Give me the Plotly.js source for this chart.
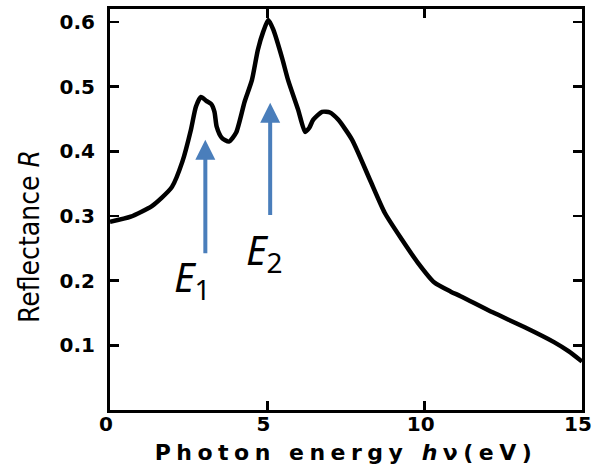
<!DOCTYPE html>
<html>
<head>
<meta charset="utf-8">
<script src="https://cdn.plot.ly/plotly-3.0.1.min.js"></script>
<style>
  html, body { margin: 0; padding: 0; background: #fff; }
  #chart { width: 594px; height: 469px; }
  .xtitle { letter-spacing: 5.5px; }
  .ytitle { translate: 0px 27px; }
</style>
</head>
<body>
<div id="chart"></div>
<script>
// Photon energy (eV)
const energy = [0.00, 0.66, 1.32, 1.64, 1.97, 2.30, 2.57, 2.73, 2.89, 3.06, 3.22, 3.32, 3.39, 3.55, 3.78,
  4.01, 4.28, 4.51, 4.70, 4.87, 5.03, 5.19, 5.47, 5.66, 5.98, 6.20, 6.33, 6.46, 6.74, 6.99, 7.25, 7.69,
  8.26, 8.73, 9.27, 9.78, 10.31, 10.83, 11.14, 12.16, 13.18, 14.11, 14.57, 15.00];
// Reflectance R
const reflectance = [0.291, 0.299, 0.315, 0.328, 0.345, 0.384, 0.433, 0.469, 0.484, 0.478, 0.473, 0.461, 0.438, 0.421, 0.415,
  0.429, 0.477, 0.510, 0.557, 0.585, 0.603, 0.588, 0.544, 0.510, 0.464, 0.430, 0.436, 0.449, 0.461, 0.460, 0.449, 0.418,
  0.356, 0.305, 0.264, 0.228, 0.197, 0.183, 0.176, 0.151, 0.128, 0.105, 0.091, 0.075];

const xTickVals = [0, 5, 10, 15];
const xTickText = ['0', '5', '10', '15'];
const yTickVals = [0.1, 0.2, 0.3, 0.4, 0.5, 0.6];
const yTickText = ['0.1', '0.2', '0.3', '0.4', '0.5', '0.6'];

// Critical points marked with arrows
const markerLabels = ['<i>E</i><sub>1</sub>', '<i>E</i><sub>2</sub>'];
const markerEnergy = [3.03, 5.09];   // arrow position (eV)
const markerTip = [0.418, 0.475];    // arrow head (R)
const markerTail = [0.240, 0.299];   // arrow tail (R)
const labelEnergy = [2.63, 4.90];    // label centre (eV)
const labelR = [0.204, 0.245];       // label centre (R)

const arrowColor = '#4a7ebb';
const annotations = [];
for (let i = 0; i < markerLabels.length; i++) {
  annotations.push({
    x: markerEnergy[i], y: markerTip[i], xref: 'x', yref: 'y',
    ax: markerEnergy[i], ay: markerTail[i], axref: 'x', ayref: 'y',
    text: '', showarrow: true, arrowhead: 2, arrowsize: 1, arrowwidth: 4,
    arrowcolor: arrowColor, standoff: 0, startstandoff: 0
  });
  annotations.push({
    x: labelEnergy[i], y: labelR[i], xref: 'x', yref: 'y',
    text: markerLabels[i], showarrow: false, xanchor: 'center', yanchor: 'middle',
    font: { family: 'Noto Sans, Open Sans, sans-serif', size: 40, color: '#000' }
  });
}

const trace = {
  x: energy, y: reflectance, type: 'scatter', mode: 'lines',
  line: { color: '#000', width: 4.5, shape: 'spline', smoothing: 0.6 },
  hoverinfo: 'skip'
};

const tickFont = { family: 'DejaVu Sans, sans-serif', size: 20, color: '#000', weight: 'bold' };

const layout = {
  width: 594, height: 469,
  margin: { l: 110, r: 12, t: 9, b: 59, pad: 0 },
  paper_bgcolor: '#fff', plot_bgcolor: '#fff',
  showlegend: false,
  xaxis: {
    range: [0, 15], tickvals: xTickVals, ticktext: xTickText,
    ticks: 'inside', ticklen: 9, tickwidth: 2.5, tickcolor: '#000',
    showline: true, linecolor: '#000', linewidth: 3, mirror: 'ticks',
    showgrid: false, zeroline: false, tickfont: tickFont, ticklabelstandoff: -6,
    ticklabelshift: -4, ticklabeloverflow: 'allow',
    title: { text: 'Photon energy <i>h</i>ν(eV)', standoff: 10,
      font: { family: 'DejaVu Sans, sans-serif', size: 22, color: '#000', weight: 'bold' } }
  },
  yaxis: {
    range: [0, 0.62], tickvals: yTickVals, ticktext: yTickText,
    ticks: 'inside', ticklen: 9, tickwidth: 2.5, tickcolor: '#000',
    showline: true, linecolor: '#000', linewidth: 3, mirror: 'ticks',
    showgrid: false, zeroline: false, tickfont: tickFont, ticklabelstandoff: 8,
    ticklabeloverflow: 'allow',
    title: { text: 'Reflectance <i>R</i>', standoff: 12,
      font: { family: 'DejaVu Sans Condensed, DejaVu Sans, sans-serif', size: 28, color: '#000' } }
  },
  annotations: annotations
};

Plotly.newPlot('chart', [trace], layout, { displayModeBar: false, staticPlot: true });
</script>
</body>
</html>
